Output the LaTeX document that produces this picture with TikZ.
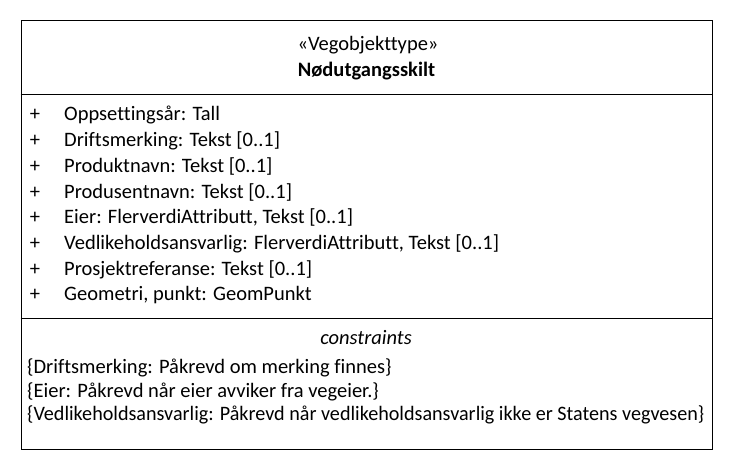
\documentclass[tikz,border=0pt]{standalone}
\usepackage{fontspec}
\setmainfont[Ligatures={NoCommon}]{Carlito}
\begin{document}
\begin{tikzpicture}[x=1pt,y=-1pt,
  txt/.style={inner sep=0pt, font=\fontsize{20.5}{24}\selectfont},
  attr/.style={txt, anchor=base west},
  plus/.style={txt, anchor=base},
  frame/.style={draw=black, line width=1pt}]
\useasboundingbox (0,0) rectangle (732,470);
\node[frame, minimum width=691pt, minimum height=429pt, inner sep=0pt, anchor=north west] (box) at (20.5,20) {};
\coordinate (d1l) at (20.5,94.5); \coordinate (d1r) at (711.5,94.5);
\coordinate (d2l) at (20.5,318.5); \coordinate (d2r) at (711.5,318.5);
\draw[frame] (d1l) -- (d1r);
\draw[frame] (d2l) -- (d2r);
\node[txt, anchor=base] (st) at (368,50.7) {«Vegobjekttype»};
\node[txt, anchor=base, font=\fontsize{20.5}{24}\selectfont\bfseries] (nm) at (366.5,76.7) {Nødutgangsskilt};
\foreach \t [count=\i from 0] in {Oppsettingsår: Tall, Driftsmerking: Tekst [0..1], Produktnavn: Tekst [0..1], Produsentnavn: Tekst [0..1], {Eier: FlerverdiAttributt, Tekst [0..1]}, {Vedlikeholdsansvarlig: FlerverdiAttributt, Tekst [0..1]}, Prosjektreferanse: Tekst [0..1], {Geometri, punkt: GeomPunkt}}{
  \node[plus] (p\i) at (35,121+25.71*\i) {+};
  \node[attr] (a\i) at (64,121+25.71*\i) {\t};
}
\node[txt, anchor=base, font=\fontsize{20.5}{24}\selectfont\itshape] (cn) at (366,344.5) {constraints};
\node[attr] (c1) at (27,373.5) {\{Driftsmerking: Påkrevd om merking finnes\}};
\node[attr] (c2) at (27,397.3) {\{Eier: Påkrevd når eier avviker fra vegeier.\}};
\node[attr] (c3) at (27,421) {\resizebox{677pt}{\height}{\{Vedlikeholdsansvarlig: Påkrevd når vedlikeholdsansvarlig ikke er Statens vegvesen\}}};
\end{tikzpicture}
\end{document}
